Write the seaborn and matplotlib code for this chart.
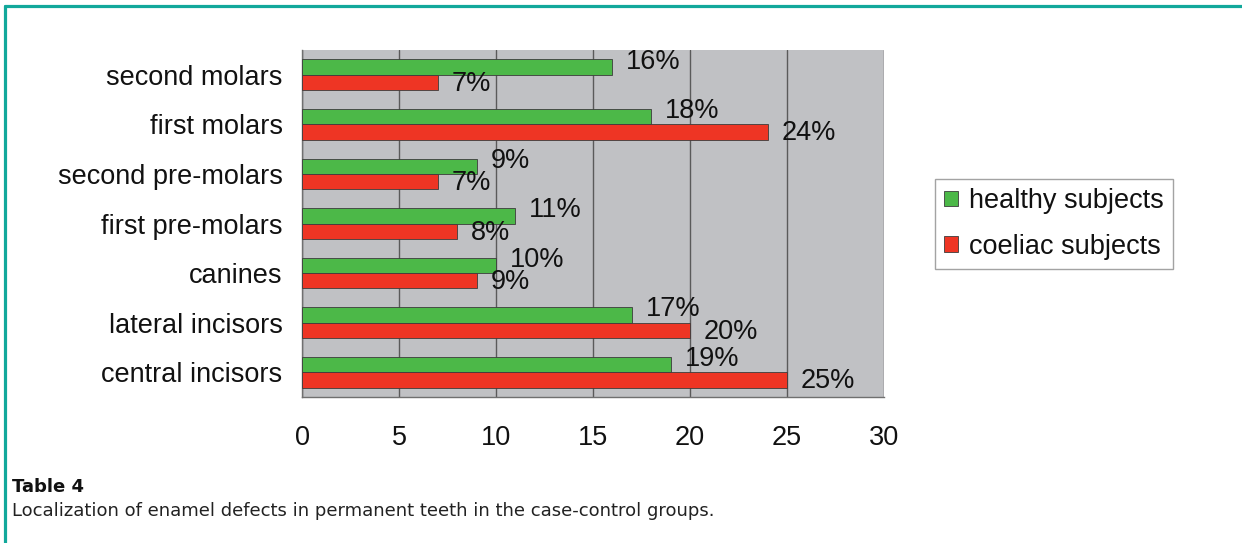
import pandas as pd
import numpy as np
import seaborn as sns
import matplotlib.pyplot as plt
from matplotlib.lines import Line2D
from matplotlib.patches import Patch

# data (percent of teeth with enamel defects)
teeth = ["second molars", "first molars", "second pre-molars", "first pre-molars",
         "canines", "lateral incisors", "central incisors"]
healthy = [16, 18, 9, 11, 10, 17, 19]
coeliac = [7, 24, 7, 8, 9, 20, 25]
groups = ["healthy subjects", "coeliac subjects"]
xticks = [0, 5, 10, 15, 20, 25, 30]

green = "#4cb848"
red = "#ee3524"
ink = "#111111"

df = pd.concat([
    pd.DataFrame({"tooth": teeth, "pct": healthy, "group": groups[0]}),
    pd.DataFrame({"tooth": teeth, "pct": coeliac, "group": groups[1]}),
])

sns.set_style("white")
plt.rcParams["font.family"] = ["Liberation Sans", "DejaVu Sans"]

fig = plt.figure(figsize=(12.42, 5.43), dpi=100)
ax = fig.add_axes([302 / 1242, 1 - 397 / 543, 582 / 1242, 347 / 543])
ax.set_facecolor("#c0c1c4")

sns.barplot(data=df, y="tooth", x="pct", hue="group", order=teeth, hue_order=groups,
            palette=[green, red], orient="h", width=0.62, edgecolor="#3c3c3c",
            linewidth=0.6, saturation=1, legend=False, ax=ax, zorder=3)

ax.set_xlim(0, 30)
ax.set_ylim(6.5, -0.5)
ax.set_xticks(xticks)
ax.set_xticklabels([str(v) for v in xticks], fontsize=19.5, color=ink)
ax.tick_params(axis="x", direction="out", length=7, width=1, color="#707070", pad=13)
ax.set_yticks(range(len(teeth)))
ax.set_yticklabels(teeth, fontsize=19.5, color=ink)
ax.tick_params(axis="y", which="major", length=0, pad=14)
ax.set_yticks(np.arange(-0.5, len(teeth), 1), minor=True)
ax.tick_params(axis="y", which="minor", direction="out", length=6, width=1, color="#707070")
ax.xaxis.grid(True, color="#5a5a5a", linewidth=1)
ax.set_axisbelow(True)
ax.set_xlabel("")
ax.set_ylabel("")
for s in ["top", "right"]:
    ax.spines[s].set_visible(False)
for s in ["left", "bottom"]:
    ax.spines[s].set_color("#707070")
    ax.spines[s].set_linewidth(1)

# value labels
for i, (h, c) in enumerate(zip(healthy, coeliac)):
    ax.annotate(f"{h}%", (h, i - 0.155), xytext=(10, 4), textcoords="offset points",
                va="center", ha="left", fontsize=19.5, color=ink, zorder=5)
    ax.annotate(f"{c}%", (c, i + 0.155), xytext=(10, -1), textcoords="offset points",
                va="center", ha="left", fontsize=19.5, color=ink, zorder=5)

handles = [Patch(facecolor=green, edgecolor="#3c3c3c", linewidth=0.6),
           Patch(facecolor=red, edgecolor="#3c3c3c", linewidth=0.6)]
leg = fig.legend(handles, groups, loc="center left",
                 bbox_to_anchor=(935 / 1242, 1 - 224 / 543), fontsize=19.5,
                 frameon=True, fancybox=False, handlelength=0.5, handleheight=0.5,
                 handletextpad=0.4, labelspacing=0.72, borderpad=0.35, borderaxespad=0)
leg.get_frame().set_edgecolor("#8c8c8c")
leg.get_frame().set_linewidth(1)
for t in leg.get_texts():
    t.set_color(ink)

# teal frame around the figure (top and left)
teal = "#12a89b"
fig.add_artist(Line2D([5 / 1242, 1], [1 - 6 / 543, 1 - 6 / 543], color=teal, lw=2.3,
                      transform=fig.transFigure))
fig.add_artist(Line2D([5 / 1242, 5 / 1242], [0, 1 - 6 / 543], color=teal, lw=2.3,
                      transform=fig.transFigure))

fig.text(12 / 1242, 1 - 487 / 543, "Table 4", fontsize=13, fontweight="bold",
         family="DejaVu Sans", va="center", ha="left", color=ink)
fig.text(12 / 1242, 1 - 511 / 543,
         "Localization of enamel defects in permanent teeth in the case-control groups.",
         fontsize=13, family="DejaVu Sans", va="center", ha="left", color="#222222")

plt.savefig("out.png", dpi=100, facecolor="white")
plt.close()
